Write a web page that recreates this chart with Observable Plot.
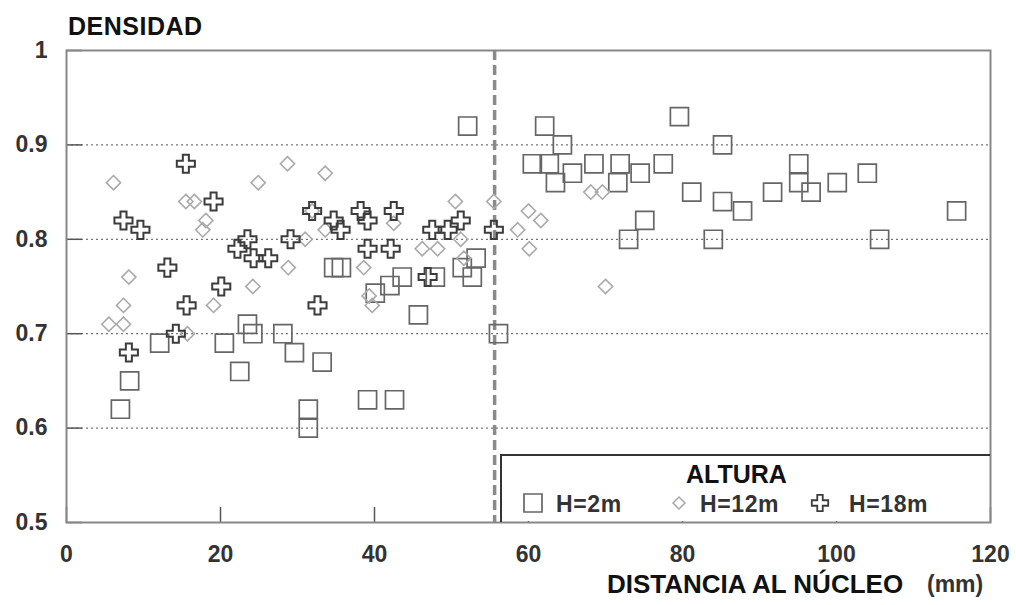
<!DOCTYPE html>
<html>
<head>
<meta charset="utf-8">
<script src="https://cdn.jsdelivr.net/npm/d3@7"></script>
<script src="https://cdn.jsdelivr.net/npm/@observablehq/plot@0.6"></script>
<style>
  html, body { margin: 0; padding: 0; background: #fff; }
  #chart { position: relative; width: 1016px; height: 605px; }
  svg { font-family: "Liberation Sans", Arial, Helvetica, sans-serif; }
</style>
</head>
<body>
<div id="chart"></div>
<script>
// ---- data ----
const h2x = [7.0, 8.2, 12.1, 20.5, 22.5, 23.5, 24.2, 28.1, 29.6, 31.4, 31.4, 33.2, 34.7, 35.7, 39.1, 42.6, 40.1, 42.0, 43.6, 45.7, 47.9, 51.4, 53.2, 52.7, 52.1, 56.1, 60.5, 62.1, 62.7, 63.5, 64.4, 65.7, 68.5, 71.6, 71.9, 73.0, 74.5, 75.1, 77.5, 79.6, 81.2, 84.0, 85.2, 85.2, 87.8, 91.7, 95.1, 95.1, 96.7, 100.1, 104.0, 105.6, 115.6];
const h2y = [0.62, 0.65, 0.69, 0.69, 0.66, 0.71, 0.70, 0.70, 0.68, 0.62, 0.60, 0.67, 0.77, 0.77, 0.63, 0.63, 0.743, 0.751, 0.76, 0.72, 0.76, 0.77, 0.78, 0.76, 0.92, 0.70, 0.88, 0.92, 0.88, 0.86, 0.90, 0.87, 0.88, 0.86, 0.88, 0.80, 0.87, 0.82, 0.88, 0.93, 0.85, 0.80, 0.84, 0.90, 0.83, 0.85, 0.88, 0.86, 0.85, 0.86, 0.87, 0.80, 0.83];

const h12x = [5.5, 6.1, 7.4, 7.4, 8.1, 15.5, 15.7, 16.6, 17.7, 18.1, 19.1, 24.2, 24.9, 28.7, 28.8, 31.0, 31.9, 33.6, 33.6, 38.6, 39.3, 39.7, 42.5, 46.2, 48.2, 50.5, 51.2, 51.6, 55.5, 58.6, 60.0, 60.1, 61.6, 68.1, 69.6, 70.0];
const h12y = [0.71, 0.86, 0.73, 0.71, 0.76, 0.84, 0.70, 0.84, 0.81, 0.82, 0.73, 0.75, 0.86, 0.88, 0.77, 0.80, 0.83, 0.87, 0.81, 0.77, 0.74, 0.73, 0.817, 0.79, 0.79, 0.84, 0.80, 0.78, 0.84, 0.81, 0.83, 0.79, 0.82, 0.85, 0.85, 0.75];

const h18x = [7.4, 8.1, 9.6, 13.1, 14.2, 15.5, 15.6, 19.1, 20.1, 22.2, 23.5, 24.3, 26.2, 29.1, 31.9, 32.6, 34.7, 35.6, 38.2, 39.1, 39.1, 42.1, 42.5, 46.9, 47.5, 49.5, 51.2, 55.5];
const h18y = [0.82, 0.68, 0.81, 0.77, 0.70, 0.88, 0.73, 0.84, 0.75, 0.79, 0.80, 0.78, 0.78, 0.80, 0.83, 0.73, 0.82, 0.81, 0.83, 0.82, 0.79, 0.79, 0.83, 0.76, 0.81, 0.81, 0.82, 0.81];

const coreBoundary = [55.6];
const xTicks = [0, 20, 40, 60, 80, 100, 120];
const xTickLabels = ["0", "20", "40", "60", "80", "100", "120"];
const yTicks = [0.5, 0.6, 0.7, 0.8, 0.9, 1];
const yTickLabels = ["0.5", "0.6", "0.7", "0.8", "0.9", "1"];
const yGrid = [0.6, 0.7, 0.8, 0.9];
const seriesNames = ["H=2m", "H=12m", "H=18m"];
const yTitle = "DENSIDAD";
const xTitle = "DISTANCIA AL NÚCLEO";
const xUnit = "(mm)";
const legendTitle = "ALTURA";

const toRows = (xs, ys) => xs.map((x, i) => ({x, y: ys[i]}));
const s2 = toRows(h2x, h2y), s12 = toRows(h12x, h12y), s18 = toRows(h18x, h18y);

const labelStyle = {fontWeight: "bold", fontSize: 23, fill: "#333"};
// inward tick lengths expressed in data units (16px / 15px)
const yTickLen = 16 / 7.7;
const xTickLen = 15 / 944;

const chart = Plot.plot({
  width: 1016, height: 605,
  marginLeft: 66, marginRight: 26, marginTop: 50, marginBottom: 83,
  style: {background: "#fff", fontFamily: "'Liberation Sans', Arial, sans-serif"},
  x: {domain: [0, 120]},
  y: {domain: [0.5, 1]},
  marks: [
    Plot.gridY(yGrid, {stroke: "#777", strokeOpacity: 1, strokeWidth: 1.2, strokeDasharray: "2,3"}),
    Plot.ruleX(coreBoundary, {stroke: "#8a8a8a", strokeWidth: 3.5, strokeDasharray: "10,5"}),
    Plot.ruleY(yTicks, {x1: 0, x2: yTickLen, stroke: "#555", strokeWidth: 1.5}),
    Plot.ruleX(xTicks, {y1: 0.5, y2: 0.5 + xTickLen, stroke: "#555", strokeWidth: 1.5}),
    Plot.axisY(yTicks, {tickSize: 0, tickPadding: 19, label: null, tickFormat: (d, i) => yTickLabels[i], ...labelStyle}),
    Plot.axisX(xTicks, {tickSize: 0, tickPadding: 23, label: null, tickFormat: (d, i) => xTickLabels[i], ...labelStyle}),
    Plot.dot(s2, {x: "x", y: "y", symbol: "square", r: 10.2, stroke: "#666", strokeWidth: 1.7, fill: "none"}),
    Plot.dot(s12, {x: "x", y: "y", symbol: "diamond2", r: 6.4, stroke: "#aaa", strokeWidth: 1.6, fill: "none"}),
    Plot.dot(s18, {x: "x", y: "y", symbol: "cross", r: 7.6, stroke: "#3c3c3c", strokeWidth: 2, fill: "none"}),
    Plot.frame({stroke: "#888", strokeWidth: 2})
  ]
});
document.getElementById("chart").appendChild(chart);

// ---- titles & legend (added to the same SVG) ----
const svg = d3.select(chart);
const bold = g => g.attr("font-weight", "bold").attr("text-anchor", "start")
  .attr("font-family", "'Liberation Sans', Arial, sans-serif");

svg.append("text").call(bold).attr("x", 68).attr("y", 35).attr("font-size", 25).attr("letter-spacing", 0.5).attr("fill", "#111").text(yTitle);
svg.append("text").call(bold).attr("x", 607).attr("y", 593).attr("font-size", 26).attr("fill", "#111").text(xTitle);
svg.append("text").call(bold).attr("x", 927).attr("y", 592).attr("font-size", 23).attr("fill", "#333").text(xUnit);

const lg = svg.append("g");
lg.append("rect").attr("x", 502).attr("y", 456).attr("width", 487).attr("height", 65).attr("fill", "#fff");
lg.append("path").attr("d", "M501,522V455H990").attr("fill", "none").attr("stroke", "#333").attr("stroke-width", 2);
lg.append("text").call(bold).attr("x", 686).attr("y", 483).attr("font-size", 25).attr("fill", "#111").text(legendTitle);

const legendItems = [
  {sym: d3.symbolSquare, size: 324, stroke: "#666", sw: 1.7, sx: 533, tx: 556},
  {sym: d3.symbolDiamond2, size: 90, stroke: "#aaa", sw: 1.6, sx: 679, tx: 700},
  {sym: d3.symbolCross, size: 150, stroke: "#3c3c3c", sw: 1.8, sx: 820, tx: 849}
];
legendItems.forEach((it, i) => {
  lg.append("path").attr("transform", `translate(${it.sx},503)`)
    .attr("d", d3.symbol(it.sym, it.size)())
    .attr("fill", "none").attr("stroke", it.stroke).attr("stroke-width", it.sw);
  lg.append("text").call(bold).attr("x", it.tx).attr("y", 512).attr("font-size", 23)
    .attr("letter-spacing", 0.6).attr("fill", "#333").text(seriesNames[i]);
});
</script>
</body>
</html>
